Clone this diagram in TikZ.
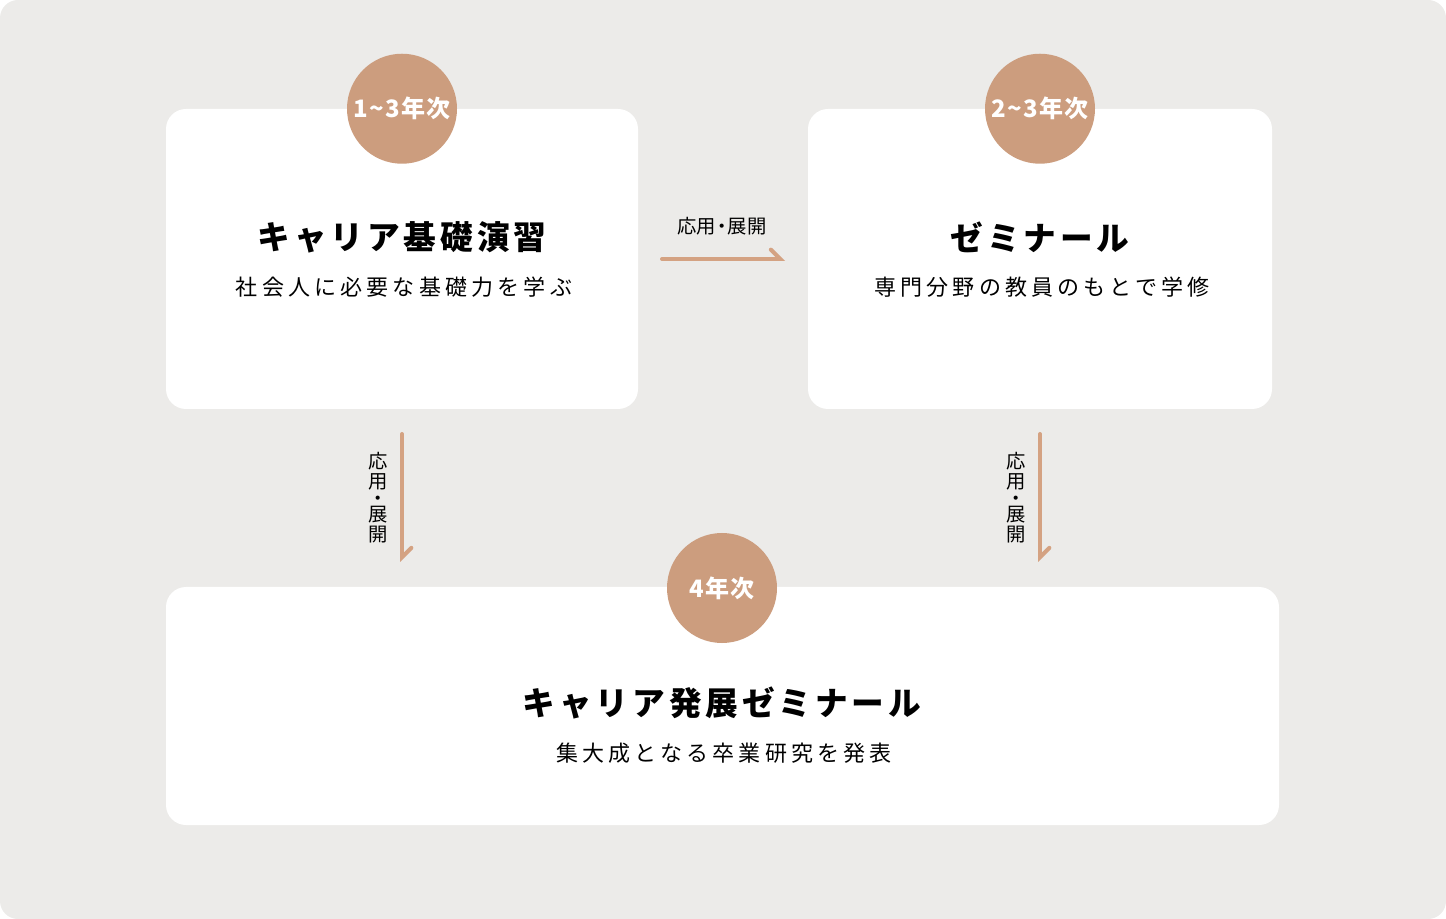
\documentclass[tikz,border=0pt]{standalone}
\usepackage{fontspec}
\usetikzlibrary{positioning, arrows.meta}
\setmainfont{Noto Sans CJK JP}
\newfontfamily\titlefont[LetterSpace=12]{Noto Sans CJK JP}
\newfontfamily\subfont[LetterSpace=19]{Noto Sans CJK JP}
\newfontfamily\yearfont[LetterSpace=5]{Noto Sans CJK JP}
\definecolor{bgcol}{RGB}{236,235,233}
\definecolor{brown}{RGB}{204,157,126}
\definecolor{arrcol}{RGB}{212,162,130}

\begin{document}
\begin{tikzpicture}[x=0.75pt,y=-0.75pt]
            \tikzset{box/.style={fill=white,rounded corners=15pt,inner sep=0pt},
                     year/.style={circle,fill=brown,minimum size=82.5pt,inner sep=0pt,text=white,font=\yearfont\bfseries\fontsize{18}{20}\selectfont},
                     title/.style={font=\titlefont\bfseries\fontsize{24.5}{28}\selectfont},
                     sub/.style={font=\subfont\fontsize{16.5}{18}\selectfont},
                     lbl/.style={font=\fontsize{14.5}{15}\selectfont,inner sep=0pt},
                     flow/.style={draw=arrcol,line width=3pt,line cap=round,
                                  -{Straight Barb[harpoon,length=7pt,width=14pt,line cap=round]}}}

            \useasboundingbox (0,0) rectangle (1446,919);
            \fill[bgcol,rounded corners=13.5pt] (0,0) rectangle (1446,919);

            \node[box,minimum width=354pt,minimum height=225pt] (kiso) at (402,259) {};
            \node[box,minimum width=348pt,minimum height=225pt] (zemi) at (1040,259) {};
            \node[box,minimum width=834.75pt,minimum height=178.5pt] (hatten) at (722.5,706) {};

            \node[year] (y1) at (kiso.north) {1\textasciitilde3年次};
            \node[year] (y2) at (zemi.north) {2\textasciitilde3年次};
            \node[year] (y3) at (722,588) {4年次};

            \node[title] (t1) at (402,237) {キャリア基礎演習};
            \node[sub] (s1) at (404,287) {社会人に必要な基礎力を学ぶ};

            \node[title] (t2) at (1040,237) {ゼミナール};
            \node[sub] (s2) at (1042,287) {専門分野の教員のもとで学修};

            \node[title] (t3) at (722,703) {キャリア発展ゼミナール};
            \node[sub] (s3) at (724,753) {集大成となる卒業研究を発表};

            % arrows between the boxes
            \coordinate (a1s) at (662,259);
            \coordinate (a1e) at (785,259);
            \coordinate (a2s) at (402,434);
            \coordinate (a2e) at (402,562);
            \coordinate (a3s) at (1040,434);
            \coordinate (a3e) at (1040,562);

            \draw[flow] (a1s) -- (a1e);
            \draw[flow] (a2s) -- (a2e);
            \draw[flow] (a3s) -- (a3e);

            \node[lbl] (l1) at (722,226) {応用\hspace{-0.2em}・\hspace{-0.2em}展開};
            \node[lbl,align=center] (l2) at (378,498) {応\\用\\[-2.6pt]・\\[-2.6pt]展\\開};
            \node[lbl,align=center] (l3) at (1016,498) {応\\用\\[-2.6pt]・\\[-2.6pt]展\\開};

        \end{tikzpicture}
\end{document}
